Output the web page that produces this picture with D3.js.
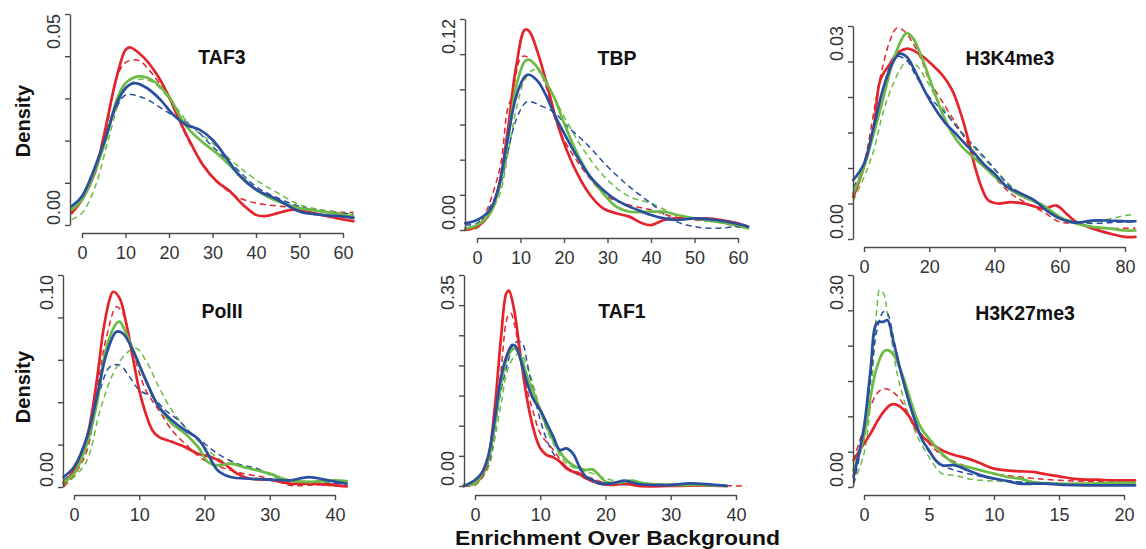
<!DOCTYPE html>
<html>
<head>
<meta charset="utf-8">
<script src="https://cdn.jsdelivr.net/npm/d3@7"></script>
<style>
  html, body { margin: 0; padding: 0; background: #ffffff; }
  svg { display: block; font-family: "Liberation Sans", Arial, Helvetica, sans-serif; }
</style>
</head>
<body>
<svg id="chart" width="1146" height="549"></svg>
<script>
// ---- Density estimates: [enrichment, density] pairs per panel and series ----

const taf3RedSolid = [[-2.4,0.0028],[0,0.006],[3,0.0125],[5,0.021],[8,0.0352],[10,0.0415],[11,0.0421],[14,0.0399],[17,0.036],[20,0.0304],[22,0.0257],[25,0.0194],[28,0.0139],[31,0.0103],[34,0.008],[37,0.0048],[40,0.0024],[42,0.0021],[45,0.0028],[48,0.0036],[50,0.0035],[55,0.0024],[60,0.0013],[62.4,0.0009]];
const taf3RedDashed = [[-2.4,0.003],[0,0.006],[5,0.02],[8,0.035],[10,0.0385],[13,0.039],[16,0.036],[20,0.03],[25,0.019],[30,0.0115],[33,0.0085],[36,0.0065],[40,0.0052],[45,0.0045],[50,0.004],[55,0.0035],[60,0.003],[62.4,0.003]];
const taf3GreenSolid = [[-2.4,0.0036],[0,0.006],[5,0.0186],[8,0.0297],[10,0.0336],[13,0.0352],[16,0.0344],[20,0.0304],[23,0.0249],[25,0.0222],[28,0.0194],[31,0.017],[35,0.0131],[40,0.0084],[45,0.0056],[50,0.004],[55,0.0032],[60,0.0024],[62.4,0.002]];
const taf3GreenDashed = [[-2.4,0.0013],[0,0.0028],[3,0.009],[6,0.02],[9,0.0304],[11,0.0332],[13,0.0345],[16,0.034],[20,0.03],[25,0.0235],[30,0.0194],[35,0.0147],[40,0.0107],[45,0.0076],[50,0.0048],[55,0.0036],[60,0.0028],[62.4,0.0025]];
const taf3BlueSolid = [[-2.4,0.0044],[0,0.0068],[5,0.0194],[8,0.0289],[10,0.0324],[12,0.0336],[15,0.0324],[18,0.0297],[21,0.0261],[24,0.0237],[27,0.0226],[30,0.0202],[33,0.0162],[36,0.0119],[40,0.0084],[45,0.006],[50,0.0032],[55,0.0024],[60,0.002],[62.4,0.0017]];
const taf3BlueDashed = [[-2.4,0.0044],[0,0.0068],[5,0.0194],[8,0.028],[10,0.0308],[12,0.0308],[15,0.0297],[20,0.0265],[25,0.0237],[30,0.0186],[35,0.0139],[40,0.0091],[45,0.0064],[50,0.0044],[55,0.0032],[60,0.0028],[62.4,0.0026]];

const tbpRedSolid = [[-2.7,0],[0,0.0019],[3,0.0095],[5,0.0247],[7,0.0551],[9,0.093],[11,0.1139],[12,0.113],[14,0.1006],[16,0.0835],[18,0.0646],[20,0.0494],[23,0.0323],[26,0.0199],[29,0.0123],[32,0.0095],[35,0.0076],[38,0.0038],[40,0.0028],[43,0.0057],[46,0.0066],[50,0.0066],[55,0.0061],[60,0.0038],[62.3,0.0019]];
const tbpRedDashed = [[-2.7,0.001],[0,0.0019],[5,0.0323],[7,0.0684],[8,0.076],[10,0.0978],[11,0.099],[12,0.0975],[15,0.0873],[18,0.063],[20,0.0513],[25,0.0323],[30,0.019],[35,0.0142],[40,0.0114],[45,0.0076],[50,0.0057],[55,0.0047],[60,0.0019],[62.3,0.001]];
const tbpGreenSolid = [[-2.7,0.0009],[0,0.0028],[3,0.0095],[5,0.0228],[7,0.0494],[9,0.0816],[11,0.0959],[12,0.0968],[14,0.0921],[16,0.0835],[18,0.074],[20,0.0608],[23,0.0437],[26,0.0304],[29,0.0209],[32,0.0133],[35,0.0104],[40,0.0104],[43,0.0104],[46,0.0085],[50,0.0066],[55,0.0047],[60,0.0028],[62.3,0.0009]];
const tbpGreenDashed = [[-2.7,0.0005],[0,0.0009],[5,0.019],[7,0.0418],[9,0.0684],[11,0.0854],[13,0.0911],[15,0.0883],[18,0.074],[20,0.0646],[25,0.0437],[30,0.0285],[35,0.019],[40,0.0152],[45,0.0095],[50,0.0066],[55,0.0047],[60,0.0019],[62.3,0.001]];
const tbpBlueSolid = [[-2.7,0.0038],[0,0.0057],[3,0.0114],[5,0.0247],[7,0.0513],[9,0.0759],[11,0.0873],[12,0.0883],[14,0.0845],[16,0.0759],[18,0.0646],[20,0.0551],[23,0.0418],[26,0.0304],[29,0.0228],[32,0.0171],[35,0.0133],[38,0.0104],[40,0.0085],[43,0.0066],[46,0.0057],[50,0.0066],[55,0.0057],[60,0.0034],[62.3,0.0019]];
const tbpBlueDashed = [[-2.7,0.003],[0,0.0038],[5,0.0228],[7,0.0437],[9,0.0627],[11,0.0721],[12,0.0731],[15,0.0703],[18,0.0665],[20,0.0608],[25,0.0494],[30,0.0361],[35,0.0247],[40,0.0152],[45,0.0057],[50,0.0019],[55,0.001],[60,0.0019],[62.3,0.0015]];

const h3k4RedSolid = [[-3.3,0.0059],[0,0.0102],[3,0.0158],[5,0.0224],[8,0.0247],[10,0.0261],[13,0.0268],[15,0.0266],[18,0.0257],[21,0.0245],[24,0.0231],[27,0.021],[30,0.0172],[32,0.0139],[34,0.0102],[36,0.0073],[38,0.0055],[41,0.005],[45,0.0052],[50,0.0049],[55,0.0043],[59,0.0047],[62,0.0036],[65,0.0024],[70,0.0015],[75,0.0008],[80,0.0003],[83.2,0.0003]];
const h3k4RedDashed = [[-3.3,0.0059],[0,0.0106],[5,0.0228],[8,0.028],[10,0.0297],[12,0.0294],[15,0.0276],[18,0.0248],[20,0.0224],[25,0.0186],[30,0.0149],[35,0.0111],[40,0.0087],[45,0.0064],[50,0.005],[55,0.0038],[60,0.0024],[65,0.0022],[70,0.0017],[75,0.0015],[80,0.0015],[83.2,0.0015]];
const h3k4GreenSolid = [[-3.3,0.0064],[0,0.0102],[3,0.0149],[6,0.02],[9,0.0252],[12,0.0285],[13,0.029],[15,0.0283],[18,0.0252],[21,0.0214],[24,0.0177],[27,0.0149],[30,0.013],[34,0.0113],[38,0.0097],[42,0.008],[46,0.0066],[50,0.0057],[55,0.0047],[60,0.0031],[65,0.0022],[70,0.0017],[75,0.0015],[80,0.0012],[83.2,0.0012]];
const h3k4GreenDashed = [[-3.3,0.0054],[0,0.0087],[3,0.0125],[6,0.0181],[9,0.0219],[11,0.0238],[13,0.025],[16,0.0245],[19,0.0225],[22,0.02],[25,0.018],[30,0.015],[35,0.0122],[40,0.0098],[45,0.0075],[50,0.0058],[55,0.0045],[60,0.003],[65,0.0024],[70,0.0024],[75,0.0028],[80,0.0033],[83.2,0.0035]];
const h3k4BlueSolid = [[-3.3,0.0083],[0,0.0106],[3,0.0158],[6,0.0214],[9,0.025],[11,0.0261],[13,0.0257],[16,0.0233],[19,0.0205],[22,0.0182],[25,0.0163],[28,0.0149],[31,0.0134],[34,0.012],[37,0.0104],[40,0.0092],[44,0.0073],[48,0.0064],[52,0.0055],[56,0.004],[60,0.0029],[65,0.0023],[70,0.0026],[75,0.0026],[80,0.0025],[83.2,0.0025]];
const h3k4BlueDashed = [[-3.3,0.0073],[0,0.0102],[5,0.0196],[8,0.0243],[10,0.0257],[13,0.0252],[16,0.0229],[20,0.02],[25,0.0177],[30,0.0149],[35,0.0125],[40,0.0099],[45,0.0073],[50,0.0059],[55,0.0045],[60,0.0031],[65,0.0024],[70,0.0022],[75,0.0023],[80,0.0024],[83.2,0.0024]];

const pol2RedSolid = [[-1.6,0.0016],[0,0.0079],[2,0.0236],[3.5,0.0504],[4.5,0.074],[5.5,0.089],[6,0.0921],[7,0.089],[8,0.0772],[9,0.0614],[10,0.0457],[11,0.0346],[12,0.0268],[13,0.0236],[15,0.0213],[17,0.0189],[19,0.0157],[21,0.0142],[23,0.011],[25,0.0063],[27,0.0039],[30,0.0035],[33,0.0016],[36,0.0016],[40,0.0008],[41.8,0.0003]];
const pol2RedDashed = [[-1.6,0],[0,0.0055],[2,0.0173],[4,0.0551],[5,0.0709],[6.5,0.085],[7.5,0.0819],[9,0.0646],[11,0.0457],[13,0.0362],[15,0.0268],[17,0.0205],[20,0.0126],[25,0.0071],[30,0.0039],[33,0.0008],[36,0.0008],[40,0.0016],[41.8,0.0016]];
const pol2GreenSolid = [[-1.6,0.0024],[0,0.0063],[2,0.0205],[3.5,0.0394],[5,0.0661],[6.5,0.0772],[7,0.078],[8,0.0724],[9.5,0.0614],[11,0.0504],[13,0.0378],[15,0.0299],[17,0.0252],[19,0.0189],[20.5,0.0118],[22,0.0102],[24,0.011],[26,0.0094],[28,0.0079],[30,0.0063],[33,0.0031],[36,0.0024],[40,0.0031],[41.8,0.0028]];
const pol2GreenDashed = [[-1.6,0.0008],[0,0.0047],[2,0.0126],[4,0.0362],[6,0.0535],[8,0.063],[9.5,0.0654],[11,0.0598],[13,0.0472],[15,0.0362],[17,0.0283],[20,0.0189],[23,0.0118],[26,0.0094],[29,0.0071],[32,0.0031],[35,0.0016],[40,0.0024],[41.8,0.0024]];
const pol2BlueSolid = [[-1.6,0.0047],[0,0.0094],[2,0.0236],[3.5,0.0425],[5,0.063],[6.5,0.0732],[7.5,0.0724],[9,0.0646],[11,0.0504],[13,0.0378],[15,0.0315],[17,0.0268],[19,0.0228],[20.5,0.0157],[22,0.0079],[24,0.0047],[27,0.0039],[30,0.0035],[33,0.0031],[36,0.0047],[39,0.0031],[41.8,0.0016]];
const pol2BlueDashed = [[-1.6,0.0031],[0,0.0079],[2,0.0205],[4,0.0457],[5.5,0.0567],[7,0.0575],[8.5,0.052],[10,0.0457],[12,0.0425],[14,0.0362],[16,0.0315],[18,0.0252],[20,0.0205],[22,0.0157],[25,0.011],[28,0.0087],[31,0.0047],[35,0.0024],[40,0.0016],[41.8,0.0016]];

const taf1RedSolid = [[-1.7,0],[0,0.0044],[1,0.0155],[2,0.0431],[3,0.1261],[4,0.2477],[4.8,0.3196],[5.2,0.324],[6,0.2919],[7,0.2145],[8,0.1427],[9,0.0929],[10,0.0625],[11,0.0514],[12,0.0475],[13,0.0404],[14,0.0293],[15,0.0238],[16,0.021],[17,0.0127],[19,0.0044],[21,0.0017],[23,0.0044],[25,0],[30,0],[35,0.0011],[38.6,0]];
const taf1RedDashed = [[-1.7,0],[0,0.0017],[2,0.0321],[3,0.0929],[4,0.1924],[5,0.2809],[5.5,0.2864],[6,0.2698],[7,0.2145],[8,0.159],[9,0.12],[10,0.0874],[12,0.0597],[14,0.0321],[16,0.0182],[18,0.0127],[20,0.0044],[25,0.0017],[30,0.0006],[35,0.0006],[41.6,0]];
const taf1GreenSolid = [[-1.7,0.0017],[0,0.0044],[1,0.0182],[2,0.0431],[3,0.0984],[4,0.1703],[5,0.2145],[6,0.2284],[7,0.2145],[8,0.1813],[9,0.1537],[10,0.1261],[11,0.0984],[12,0.0763],[13,0.0569],[14,0.0431],[15,0.0348],[16,0.0293],[17,0.0265],[18,0.0276],[19,0.0182],[20,0.0072],[22,0.0055],[24,0.0088],[26,0.0044],[30,0.0017],[35,0.0017],[38.6,0]];
const taf1GreenDashed = [[-1.7,0.0006],[0,0.0017],[2,0.0293],[3,0.0763],[4,0.1371],[5,0.1924],[6,0.2145],[7,0.22],[8,0.198],[9,0.1648],[10,0.1261],[11,0.0929],[12,0.0708],[13,0.0514],[14,0.0376],[16,0.0265],[18,0.021],[20,0.0127],[22,0.0072],[25,0.0044],[30,0.0033],[38.6,0.0017]];
const taf1BlueSolid = [[-1.7,0],[0,0.01],[1,0.021],[2,0.0487],[3,0.1095],[4,0.1813],[5,0.22],[5.7,0.2339],[6.2,0.2322],[7,0.209],[8,0.1703],[9,0.1427],[10,0.1261],[11,0.104],[12,0.0818],[13,0.0597],[14,0.0625],[15,0.0542],[16,0.0321],[17,0.0155],[18,0.01],[19,0.0044],[21,0.0044],[23,0.0088],[25,0.0033],[30,0.0017],[33,0.0044],[38.6,0]];
const taf1BlueDashed = [[-1.7,0.0006],[0,0.0044],[2,0.0376],[3,0.0929],[4,0.1592],[5,0.2035],[6,0.2366],[7,0.2394],[7.5,0.2311],[8,0.2035],[9,0.1537],[10,0.1095],[11,0.0763],[12,0.0542],[13,0.0404],[15,0.0238],[17,0.0127],[20,0.0044],[25,0.0017],[30,0.0017],[38.6,0.0011]];

const h3k27RedSolid = [[-0.8,0.0378],[0,0.0614],[0.5,0.0756],[1,0.0921],[1.5,0.1063],[2,0.1157],[2.3,0.1172],[2.8,0.1134],[3.5,0.0992],[4,0.0827],[4.5,0.0709],[5,0.0638],[6,0.052],[7,0.0449],[8,0.0402],[9,0.0331],[10,0.026],[11,0.0236],[12,0.0222],[13,0.0213],[14,0.018],[15,0.0151],[16,0.0118],[17,0.0104],[18,0.0104],[19,0.0094],[20,0.0094],[20.85,0.0094]];
const h3k27RedDashed = [[-0.8,0.0378],[0,0.085],[0.5,0.1134],[1,0.1323],[1.5,0.1394],[2,0.137],[2.5,0.13],[3,0.1181],[3.5,0.0992],[4,0.085],[5,0.0614],[6,0.0449],[7,0.0354],[8,0.0283],[10,0.0189],[12,0.0142],[15,0.0094],[20,0.0071],[20.85,0.0071]];
const h3k27GreenSolid = [[-0.8,0.0236],[0,0.0709],[0.5,0.1276],[1,0.1701],[1.5,0.1913],[1.8,0.1937],[2.3,0.1866],[3,0.1559],[3.5,0.1276],[4,0.0992],[4.5,0.0803],[5,0.0685],[6,0.0472],[7,0.0331],[8,0.0283],[9,0.0236],[10,0.0189],[11,0.0142],[12,0.0118],[13,0.0071],[15,0.0047],[17,0.0047],[19,0.0057],[20.85,0.0057]];
const h3k27GreenDashed = [[-0.8,0.0047],[0,0.0472],[0.5,0.1181],[1,0.2551],[1.2,0.2787],[1.5,0.274],[1.8,0.2457],[2.5,0.1654],[3,0.1276],[3.5,0.0992],[4,0.0756],[5,0.0425],[6,0.0189],[7,0.0165],[8,0.0118],[9,0.0094],[10,0.0085],[12,0.0066],[15,0.0047],[20,0.0047],[20.85,0.0047]];
const h3k27BlueSolid = [[-0.8,0.0142],[0,0.085],[0.5,0.1654],[1,0.2324],[1.5,0.2339],[1.8,0.2362],[2.3,0.2031],[2.8,0.1654],[3.5,0.1181],[4,0.0898],[4.5,0.0661],[5,0.052],[5.5,0.0378],[6,0.0307],[7,0.0307],[8,0.0236],[9,0.0165],[10,0.0118],[11,0.0085],[12,0.0047],[13,0.0047],[14,0.0047],[15,0.0033],[17,0.0024],[20,0.0024],[20.85,0.0024]];
const h3k27BlueDashed = [[-0.8,0.0047],[0,0.0756],[0.5,0.1512],[1,0.222],[1.5,0.248],[1.8,0.2457],[2.3,0.2079],[3,0.1512],[4,0.0898],[5,0.0496],[6,0.0307],[7,0.0236],[8,0.0189],[10,0.0118],[12,0.0071],[15,0.0047],[20,0.0033],[20.85,0.0033]];

// ---- Panel titles and axis ticks ----
const panelTitles = ["TAF3", "TBP", "H3K4me3", "PolII", "TAF1", "H3K27me3"];
const xTickValues = [
  [0, 10, 20, 30, 40, 50, 60],
  [0, 10, 20, 30, 40, 50, 60],
  [0, 20, 40, 60, 80],
  [0, 10, 20, 30, 40],
  [0, 10, 20, 30, 40],
  [0, 5, 10, 15, 20]
];
const yTickValues = [
  [0, 0.01, 0.02, 0.03, 0.04, 0.05],
  [0, 0.02, 0.04, 0.06, 0.08, 0.10, 0.12],
  [0, 0.005, 0.01, 0.015, 0.02, 0.025, 0.03],
  [0, 0.02, 0.04, 0.06, 0.08, 0.10],
  [0, 0.05, 0.10, 0.15, 0.20, 0.25, 0.30, 0.35],
  [0, 0.05, 0.10, 0.15, 0.20, 0.25, 0.30]
];
const yTickLabels = [
  ["0.00", "0.05"], ["0.00", "0.12"], ["0.00", "0.03"],
  ["0.00", "0.10"], ["0.00", "0.35"], ["0.00", "0.30"]
];
const panelSeries = [
  [taf3RedDashed, taf3GreenDashed, taf3BlueDashed, taf3RedSolid, taf3GreenSolid, taf3BlueSolid],
  [tbpRedDashed, tbpGreenDashed, tbpBlueDashed, tbpRedSolid, tbpGreenSolid, tbpBlueSolid],
  [h3k4RedDashed, h3k4GreenDashed, h3k4BlueDashed, h3k4RedSolid, h3k4GreenSolid, h3k4BlueSolid],
  [pol2RedDashed, pol2GreenDashed, pol2BlueDashed, pol2RedSolid, pol2GreenSolid, pol2BlueSolid],
  [taf1RedDashed, taf1GreenDashed, taf1BlueDashed, taf1RedSolid, taf1GreenSolid, taf1BlueSolid],
  [h3k27RedDashed, h3k27GreenDashed, h3k27BlueDashed, h3k27RedSolid, h3k27GreenSolid, h3k27BlueSolid]
];

// ---- Styling and placement ----
const RED = "#e4232a", GREEN = "#6cbb46", BLUE = "#2a4f9f";
const seriesStyle = [
  { color: RED,   dash: "6,4", width: 1.5 },
  { color: GREEN, dash: "6,4", width: 1.5 },
  { color: BLUE,  dash: "6,4", width: 1.5 },
  { color: RED,   dash: null,  width: 2.7 },
  { color: GREEN, dash: null,  width: 2.7 },
  { color: BLUE,  dash: null,  width: 2.7 }
];

// pixel frame of each panel: y axis position, x range of the tick span,
// y range of the tick span, x-axis line position and the title anchor
const frames = [
  { yAxisX: 70,  x0: 82,  x1: 343,  y0: 225, y1: 14,  xAxisY: 233, tx: 222,  ty: 64 },
  { yAxisX: 465, x0: 477, x1: 738,  y0: 230, y1: 19,  xAxisY: 238, tx: 617,  ty: 65 },
  { yAxisX: 853, x0: 864, x1: 1125, y0: 239, y1: 26,  xAxisY: 247, tx: 1010, ty: 65 },
  { yAxisX: 63,  x0: 74,  x1: 335,  y0: 487, y1: 275, xAxisY: 495, tx: 222,  ty: 318 },
  { yAxisX: 464, x0: 475, x1: 736,  y0: 486, y1: 275, xAxisY: 495, tx: 622,  ty: 318 },
  { yAxisX: 853, x0: 864, x1: 1124, y0: 487, y1: 275, xAxisY: 495, tx: 1025, ty: 320 }
];

const AXIS_COLOR = "#4a4a4a";
const TICK_FONT = 18;

const svg = d3.select("#chart");

panelTitles.forEach((title, i) => {
  const f = frames[i];
  const xt = xTickValues[i];
  const yt = yTickValues[i];
  const x = d3.scaleLinear().domain([xt[0], xt[xt.length - 1]]).range([f.x0, f.x1]);
  const y = d3.scaleLinear().domain([yt[0], yt[yt.length - 1]]).range([f.y0, f.y1]);
  const g = svg.append("g").attr("class", "panel");

  // density curves
  const line = d3.line()
    .x(d => x(d[0]))
    .y(d => y(d[1]))
    .curve(d3.curveCatmullRom.alpha(0.5));

  panelSeries[i].forEach((data, k) => {
    const s = seriesStyle[k];
    g.append("path")
      .datum(data)
      .attr("d", line)
      .attr("fill", "none")
      .attr("stroke", s.color)
      .attr("stroke-width", s.width)
      .attr("stroke-dasharray", s.dash)
      .attr("stroke-linejoin", "round")
      .attr("stroke-linecap", s.dash ? "butt" : "round");
  });

  // x axis
  const xAxis = d3.axisBottom(x).tickValues(xt).tickSize(5).tickSizeOuter(0).tickPadding(4);
  const xa = g.append("g").attr("transform", `translate(0,${f.xAxisY})`).call(xAxis);
  xa.select(".domain").attr("stroke", AXIS_COLOR).attr("stroke-width", 1.4);
  xa.selectAll(".tick line").attr("stroke", AXIS_COLOR).attr("stroke-width", 1.4);
  xa.selectAll(".tick text")
    .attr("fill", "#333")
    .attr("font-size", TICK_FONT)
    .attr("dy", "0.95em");

  // y axis (labels only at the two ends, rotated)
  const yAxis = d3.axisLeft(y).tickValues(yt).tickSize(5).tickSizeOuter(0).tickFormat("");
  const ya = g.append("g").attr("transform", `translate(${f.yAxisX},0)`).call(yAxis);
  ya.select(".domain").attr("stroke", AXIS_COLOR).attr("stroke-width", 1.4);
  ya.selectAll(".tick line").attr("stroke", AXIS_COLOR).attr("stroke-width", 1.4);

  const [lo, hi] = yTickLabels[i];
  const lx = f.yAxisX - 10;
  g.append("text")
    .attr("transform", `translate(${lx},${y(yt[0])}) rotate(-90)`)
    .attr("text-anchor", "start")
    .attr("fill", "#333")
    .attr("font-size", TICK_FONT)
    .text(lo);
  g.append("text")
    .attr("transform", `translate(${lx},${y(yt[yt.length - 1])}) rotate(-90)`)
    .attr("text-anchor", "end")
    .attr("fill", "#333")
    .attr("font-size", TICK_FONT)
    .text(hi);

  // panel title
  g.append("text")
    .attr("x", f.tx)
    .attr("y", f.ty)
    .attr("text-anchor", "middle")
    .attr("font-size", 19.5)
    .attr("font-weight", "bold")
    .attr("fill", "#111")
    .text(title);
});

// shared axis titles
[121, 387].forEach(cy => {
  svg.append("text")
    .attr("transform", `translate(30,${cy}) rotate(-90)`)
    .attr("text-anchor", "middle")
    .attr("font-size", 20)
    .attr("font-weight", "bold")
    .attr("fill", "#111")
    .text("Density");
});

svg.append("text")
  .attr("x", 455)
  .attr("y", 545)
  .attr("textLength", 325)
  .attr("lengthAdjust", "spacingAndGlyphs")
  .attr("font-size", 20)
  .attr("font-weight", "bold")
  .attr("fill", "#111")
  .text("Enrichment Over Background");
</script>
</body>
</html>
